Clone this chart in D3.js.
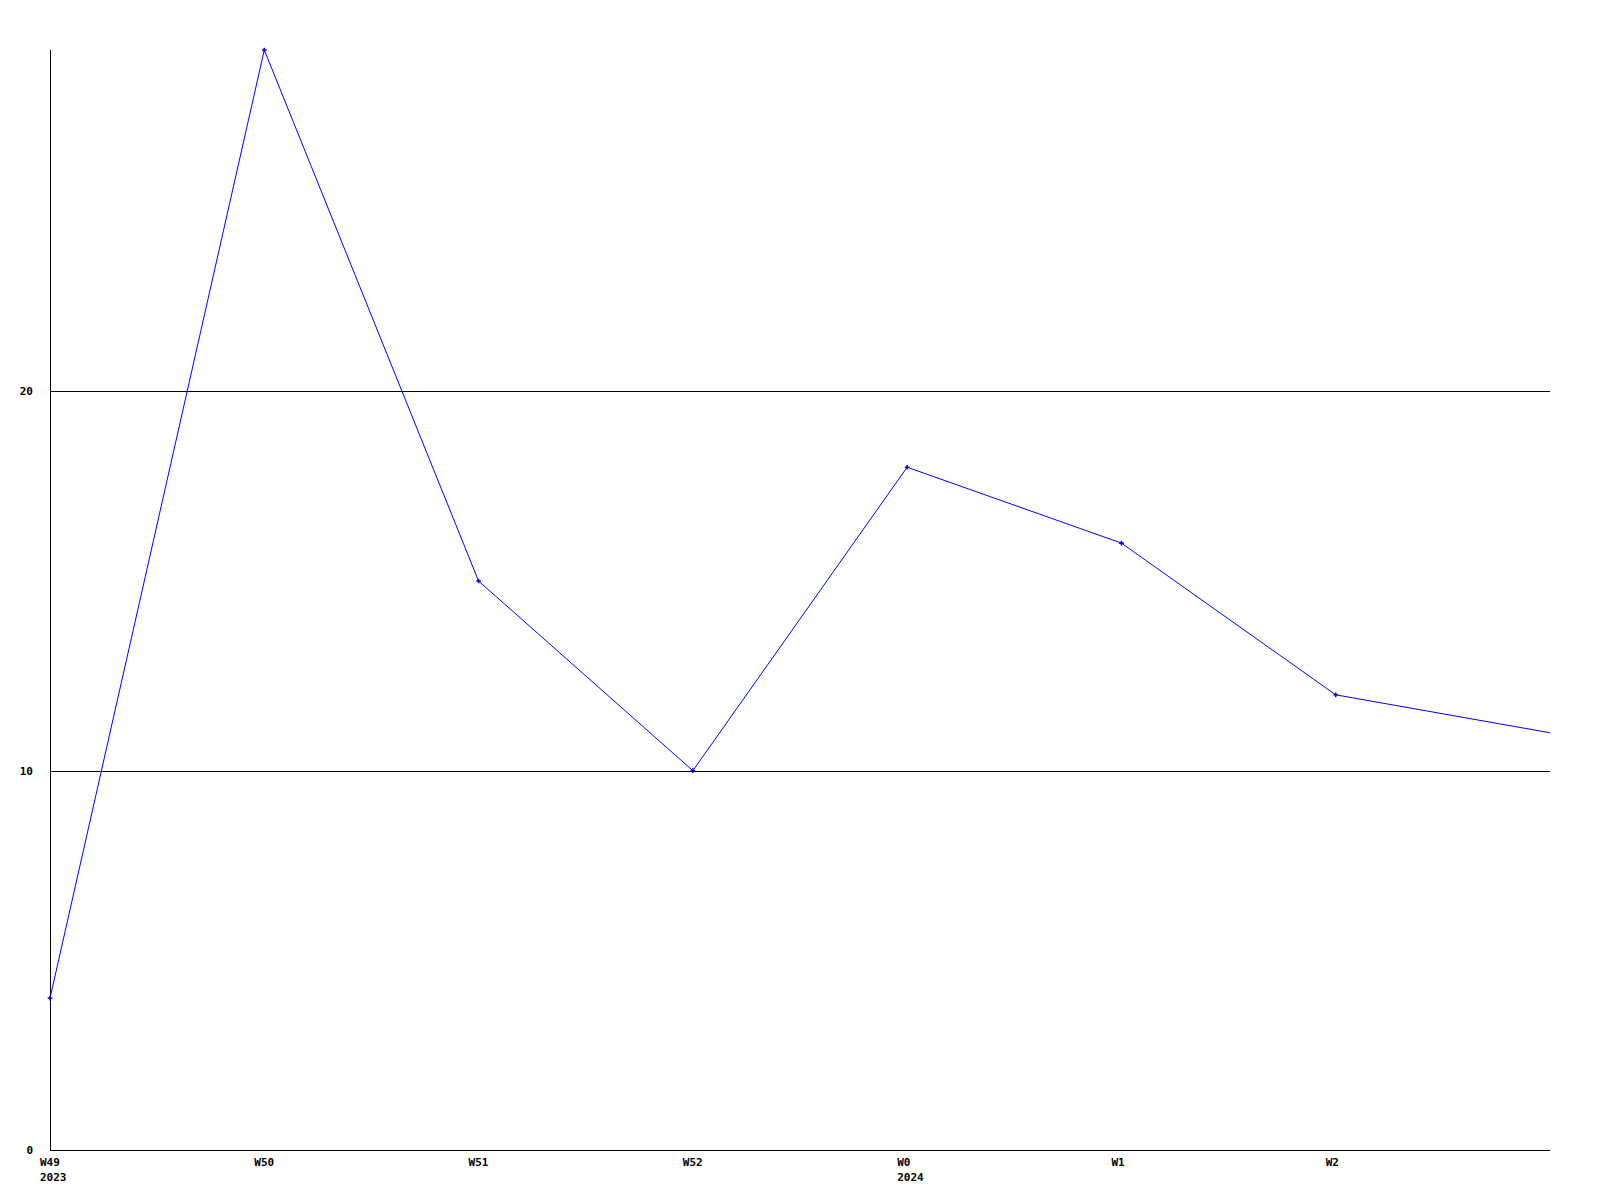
<!DOCTYPE html>
<html><head><meta charset="utf-8">
<script src="https://cdn.jsdelivr.net/npm/d3@7"></script>
<style>html,body{margin:0;padding:0;background:#fff;}svg{display:block;}</style>
</head><body>
<svg id="c" width="1600" height="1200"></svg>
<script>
const weekLabels = ["W49","W50","W51","W52","W0","W1","W2",""];
const yearLabels = ["2023","","","","2024","","",""];
const values = [4,29,15,10,18,16,12,11];
const yTicks = [0,10,20];

const svg = d3.select("#c");
const x = d3.scaleLinear().domain([0,7]).range([50,1550]);
const y = d3.scaleLinear().domain([0,29]).range([1150,50]);
const font = "'DejaVu Sans Mono', monospace";

// gridlines
svg.append("g").selectAll("line").data(yTicks.filter(d=>d>0)).join("line")
  .attr("x1", x(0)).attr("x2", x(7))
  .attr("y1", d=>Math.round(y(d))+0.5).attr("y2", d=>Math.round(y(d))+0.5)
  .attr("stroke","#000").attr("stroke-width",1).attr("shape-rendering","crispEdges");

// axes lines
svg.append("line").attr("x1",x(0)+0.5).attr("x2",x(0)+0.5).attr("y1",y(29)).attr("y2",y(0)+0.5)
  .attr("stroke","#000").attr("shape-rendering","crispEdges");
svg.append("line").attr("x1",x(0)).attr("x2",x(7)).attr("y1",y(0)+0.5).attr("y2",y(0)+0.5)
  .attr("stroke","#000").attr("shape-rendering","crispEdges");

// y labels
svg.append("g").selectAll("text").data(yTicks).join("text")
  .attr("x", 33).attr("y", d=>y(d)).attr("dy","0.35em")
  .attr("text-anchor","end").attr("font-family",font).attr("font-weight","bold").attr("font-size",11)
  .text(d=>d);

// x labels
const xl = svg.append("g");
xl.selectAll("text.w").data(weekLabels).join("text").attr("class","w")
  .attr("x",(d,i)=>x(i)-10).attr("y",1166)
  .attr("font-family",font).attr("font-weight","bold").attr("font-size",11).text(d=>d);
xl.selectAll("text.yr").data(yearLabels).join("text").attr("class","yr")
  .attr("x",(d,i)=>x(i)-10).attr("y",1181)
  .attr("font-family",font).attr("font-weight","bold").attr("font-size",11).text(d=>d);

// line
const line = d3.line().x((d,i)=>x(i)).y(d=>y(d));
svg.append("path").datum(values).attr("d",line).attr("fill","none")
  .attr("stroke","#0000ff").attr("stroke-width",1);

// markers (small cross)
svg.append("g").selectAll("path").data(values.slice(0,7)).join("path")
  .attr("d", d3.symbol(d3.symbolCross, 12))
  .attr("transform",(d,i)=>`translate(${x(i)},${y(d)})`)
  .attr("fill","#0000ff");
</script>
</body></html>
